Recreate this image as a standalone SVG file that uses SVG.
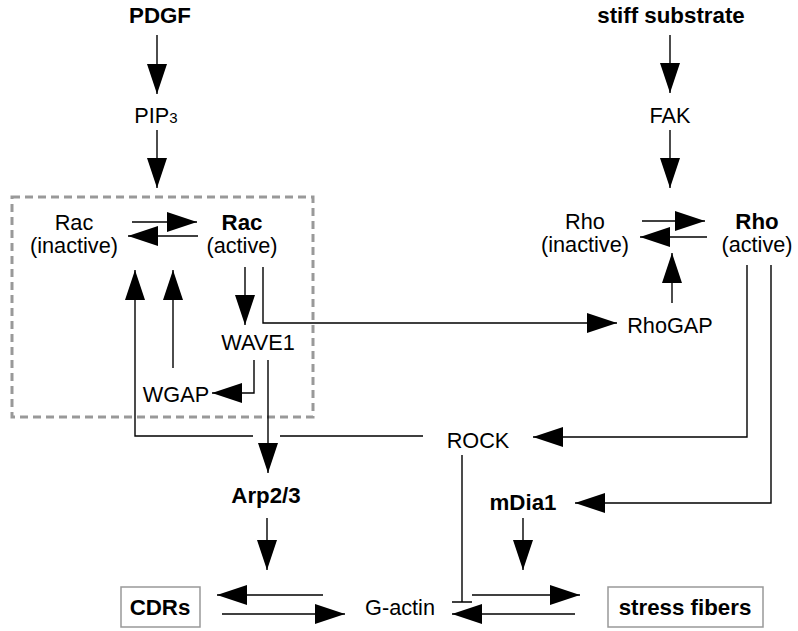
<svg xmlns="http://www.w3.org/2000/svg" width="798" height="631" viewBox="0 0 798 631">
<style>
text{font-family:"Liberation Sans",Arial,sans-serif;font-size:21.7px;fill:#000;text-anchor:middle}
.b{font-weight:bold;font-size:22.3px}
.c{fill:none;stroke:#000;stroke-width:1.4}
.box{fill:#fff;stroke:#999;stroke-width:1.5}
</style>
<defs>
<marker id="ah" viewBox="0 0 30 20" refX="30" refY="10" markerWidth="30" markerHeight="20" markerUnits="userSpaceOnUse" orient="auto">
<path d="M0,0 L30,10 L0,20 z" fill="#000"/>
</marker>
</defs>
<rect id="rac-module" x="12" y="197" width="301" height="220" fill="none" stroke="#999" stroke-width="3" stroke-dasharray="8 5"/>
<g id="connectors">
<path class="c" marker-end="url(#ah)" d="M157,35 V94"/>
<path class="c" marker-end="url(#ah)" d="M157,130 V188"/>
<path class="c" marker-end="url(#ah)" d="M132,222 H197"/>
<path class="c" marker-end="url(#ah)" d="M198,236 H128"/>
<path class="c" marker-end="url(#ah)" d="M245,267 V325"/>
<path class="c" marker-end="url(#ah)" d="M263,267 V323 H617"/>
<path class="c" marker-end="url(#ah)" d="M254,360 V393 H212"/>
<path class="c" marker-end="url(#ah)" d="M173,368 V270"/>
<path class="c" marker-end="url(#ah)" d="M423,436 H280 M253,436 H135 V270"/>
<path class="c" marker-end="url(#ah)" d="M268,360 V473"/>
<path class="c" marker-end="url(#ah)" d="M267,518 V570"/>
<path class="c" marker-end="url(#ah)" d="M323,595 H217"/>
<path class="c" marker-end="url(#ah)" d="M222,614 H345"/>
<path class="c" marker-end="url(#ah)" d="M670,35 V93"/>
<path class="c" marker-end="url(#ah)" d="M670,130 V188"/>
<path class="c" marker-end="url(#ah)" d="M642,221 H705"/>
<path class="c" marker-end="url(#ah)" d="M707,237 H640"/>
<path class="c" marker-end="url(#ah)" d="M672,303 V253"/>
<path class="c" marker-end="url(#ah)" d="M747,265 V437 H533"/>
<path class="c" marker-end="url(#ah)" d="M771,265 V503 H575"/>
<path class="c" marker-end="url(#ah)" d="M523,518 V570"/>
<path class="c" d="M462,455 V602 M452,602 H472"/>
<path class="c" marker-end="url(#ah)" d="M472,595 H580"/>
<path class="c" marker-end="url(#ah)" d="M575,614 H452"/>
</g>
<g id="PDGF"><text class="b" x="160" y="23">PDGF</text></g>
<g id="PIP3"><text x="156" y="123">PIP<tspan font-size="15">3</tspan></text></g>
<g id="stiff-substrate"><text class="b" x="671" y="23">stiff substrate</text></g>
<g id="FAK"><text x="670" y="123">FAK</text></g>
<g id="Rac-inactive"><text x="74" y="230">Rac</text><text x="74" y="253">(inactive)</text></g>
<g id="Rac-active"><text class="b" x="242" y="230">Rac</text><text x="242" y="253">(active)</text></g>
<g id="Rho-inactive"><text x="585" y="229">Rho</text><text x="585" y="252">(inactive)</text></g>
<g id="Rho-active"><text class="b" x="757" y="229">Rho</text><text x="757" y="252">(active)</text></g>
<g id="WAVE1"><text x="258" y="350">WAVE1</text></g>
<g id="WGAP"><text x="176" y="402">WGAP</text></g>
<g id="RhoGAP"><text x="670" y="333">RhoGAP</text></g>
<g id="ROCK"><text x="478" y="448">ROCK</text></g>
<g id="Arp23"><text class="b" x="266" y="503">Arp2/3</text></g>
<g id="mDia1"><text class="b" x="523" y="510">mDia1</text></g>
<g id="CDRs"><rect class="box" x="121" y="587" width="79" height="40"/><text class="b" x="160" y="615">CDRs</text></g>
<g id="G-actin"><text x="400" y="615">G-actin</text></g>
<g id="stress-fibers"><rect class="box" x="608" y="587" width="155" height="40"/><text class="b" x="685" y="615">stress fibers</text></g>
</svg>
